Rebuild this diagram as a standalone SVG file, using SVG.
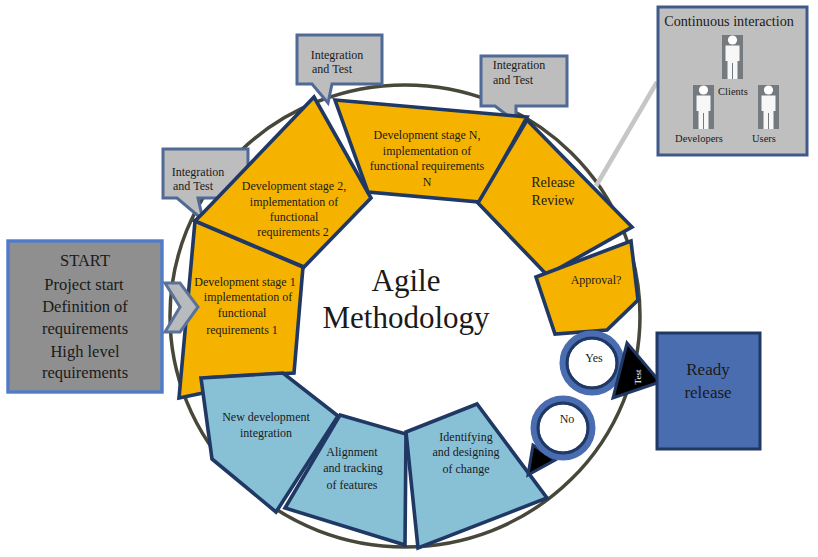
<svg xmlns="http://www.w3.org/2000/svg" width="818" height="557" viewBox="0 0 818 557">
<style>
text{font-family:"Liberation Serif","Times New Roman",serif;fill:#1a1a1a;text-anchor:middle}
.s{font-size:12px}
.b{font-size:14px}
.r{font-size:17px}
.l{font-size:16.5px}
.o{fill:#f5b300;stroke:#1f3864;stroke-width:3.6;stroke-linejoin:miter}
.c{fill:#88c0d6;stroke:#1f3864;stroke-width:3.6;stroke-linejoin:miter}
.g{fill:#bdbdbd;stroke:#4f6a97;stroke-width:3}
.ring{fill:#fff;stroke:#4a6cb0;stroke-width:9}
.inner{fill:none;stroke:#1f3864;stroke-width:3}
.tri{fill:#000;stroke:#1f3864;stroke-width:3}
.sm{font-size:10.5px}
</style>
<defs>
<g id="person">
<rect x="0" y="0" width="21" height="44" fill="#757a7f"/>
<circle cx="10.5" cy="5" r="4.6" fill="#fff"/>
<path d="M3.5 10.5H17.5V26H15.5V44H11V28H10V44H5.5V26H3.5Z" fill="#f7f7f7"/>
</g>
</defs>
<g id="connectors">
<ellipse cx="405" cy="316" rx="235" ry="231" fill="#fff" stroke="#47473a" stroke-width="3.5"/>
<line x1="596" y1="186" x2="657" y2="82" stroke="#c6c6c6" stroke-width="4.5"/>
</g>
<g id="callout-1">
<path class="g" d="M163 149H248V198H198L203 220L177 198H163Z"/>
<text class="s" x="198" y="176">Integration</text>
<text class="s" x="193" y="190">and Test</text>
</g>
<g id="callout-2">
<path class="g" d="M297 35H382V84H332L328 103L312 84H297Z"/>
<text class="s" x="337" y="59">Integration</text>
<text class="s" x="332" y="73">and Test</text>
</g>
<g id="callout-3">
<path class="g" d="M481 56H567V106H516V122L495 106H481Z"/>
<text class="s" x="519" y="69">Integration</text>
<text class="s" x="513" y="84">and Test</text>
</g>
<g id="stage-1">
<path class="o" d="M195 221L303 267L294 373L205 378L203 393L179 398Z"/>
<text class="s" x="245" y="286">Development stage 1</text>
<text class="s" x="248" y="301">implementation of</text>
<text class="s" x="242" y="317">functional</text>
<text class="s" x="242" y="334">requirements 1</text>
</g>
<g id="stage-2">
<path class="o" d="M314 97L371 198L304 267L195 221L203 213Z"/>
<text class="s" x="294" y="190">Development stage 2,</text>
<text class="s" x="294" y="206">implementation of</text>
<text class="s" x="294" y="221">functional</text>
<text class="s" x="293" y="236">requirements 2</text>
</g>
<g id="stage-n">
<path class="o" d="M335 100L527 117L480 202L368 192Z"/>
<text class="s" x="427" y="139">Development stage N,</text>
<text class="s" x="427" y="155">implementation of</text>
<text class="s" x="427" y="170">functional requirements</text>
<text class="s" x="427" y="186">N</text>
</g>
<g id="release-review">
<path class="o" d="M527 120L632 227L547 275L478 203Z"/>
<text class="b" x="553" y="187">Release</text>
<text class="b" x="553" y="205">Review</text>
</g>
<g id="approval">
<path class="o" d="M536 277L631 241L638 300L607 330L555 334Z"/>
<text class="s" x="596" y="284">Approval?</text>
</g>
<g id="new-integration">
<path class="c" d="M201 378L283 373L338 416L276 512L212 459Z"/>
<text class="s" x="266" y="421">New development</text>
<text class="s" x="266" y="437">integration</text>
</g>
<g id="alignment">
<path class="c" d="M340 415L406 434L405 545L285 508Z"/>
<text class="s" x="352" y="456">Alignment</text>
<text class="s" x="353" y="472">and tracking</text>
<text class="s" x="352" y="489">of features</text>
</g>
<g id="identifying">
<path class="c" d="M406 432L477 404L547 498L418 548Z"/>
<text class="s" x="466" y="441">Identifying</text>
<text class="s" x="466" y="456">and designing</text>
<text class="s" x="466" y="473">of change</text>
</g>
<g id="start">
<rect x="8" y="241" width="154" height="151" fill="#8f8f8f" stroke="#4f7bc9" stroke-width="3.4"/>
<text class="l" x="85" y="266">START</text>
<text class="l" x="84" y="290">Project start</text>
<text class="l" x="85" y="312">Definition of</text>
<text class="l" x="85" y="334">requirements</text>
<text class="l" x="85" y="357">High level</text>
<text class="l" x="85" y="378">requirements</text>
</g>
<g id="start-chevron">
<path d="M165 283H180L198 307L180 332H165L180 307Z" fill="#b7bbbd" stroke="#5a7299" stroke-width="3"/>
</g>
<g id="no">
<path class="tri" d="M533 445L528 475L555 460Z"/>
<circle class="ring" cx="563" cy="428" r="28"/>
<circle class="inner" cx="563" cy="428" r="25"/>
<text class="s" x="567" y="423">No</text>
</g>
<g id="yes">
<circle class="ring" cx="592" cy="363" r="28"/>
<circle class="inner" cx="592" cy="363" r="25"/>
<text class="s" x="594" y="362">Yes</text>
</g>
<g id="test">
<path class="tri" d="M627 343L660 382L613 398Z"/>
<text x="641" y="377" font-size="9" style="fill:#fff" transform="rotate(-90 641 377)">Test</text>
</g>
<g id="ready-release">
<rect x="657" y="333" width="103" height="116" fill="#4a6db0" stroke="#1f3864" stroke-width="3"/>
<text class="r" x="708" y="375">Ready</text>
<text class="r" x="708" y="398">release</text>
</g>
<g id="continuous-interaction">
<rect x="658" y="7" width="149" height="148" fill="#bfbfbf" stroke="#3f5a8a" stroke-width="3"/>
<text x="729" y="26" font-size="14.2">Continuous interaction</text>
<use href="#person" x="722" y="35"/>
<use href="#person" x="693" y="85"/>
<use href="#person" x="758" y="85"/>
<text class="sm" x="733" y="95">Clients</text>
<text class="sm" x="699" y="142">Developers</text>
<text class="sm" x="764" y="142">Users</text>
</g>
<g id="title">
<text x="406" y="291" font-size="31">Agile</text>
<text x="406" y="328" font-size="31">Methodology</text>
</g>
</svg>
